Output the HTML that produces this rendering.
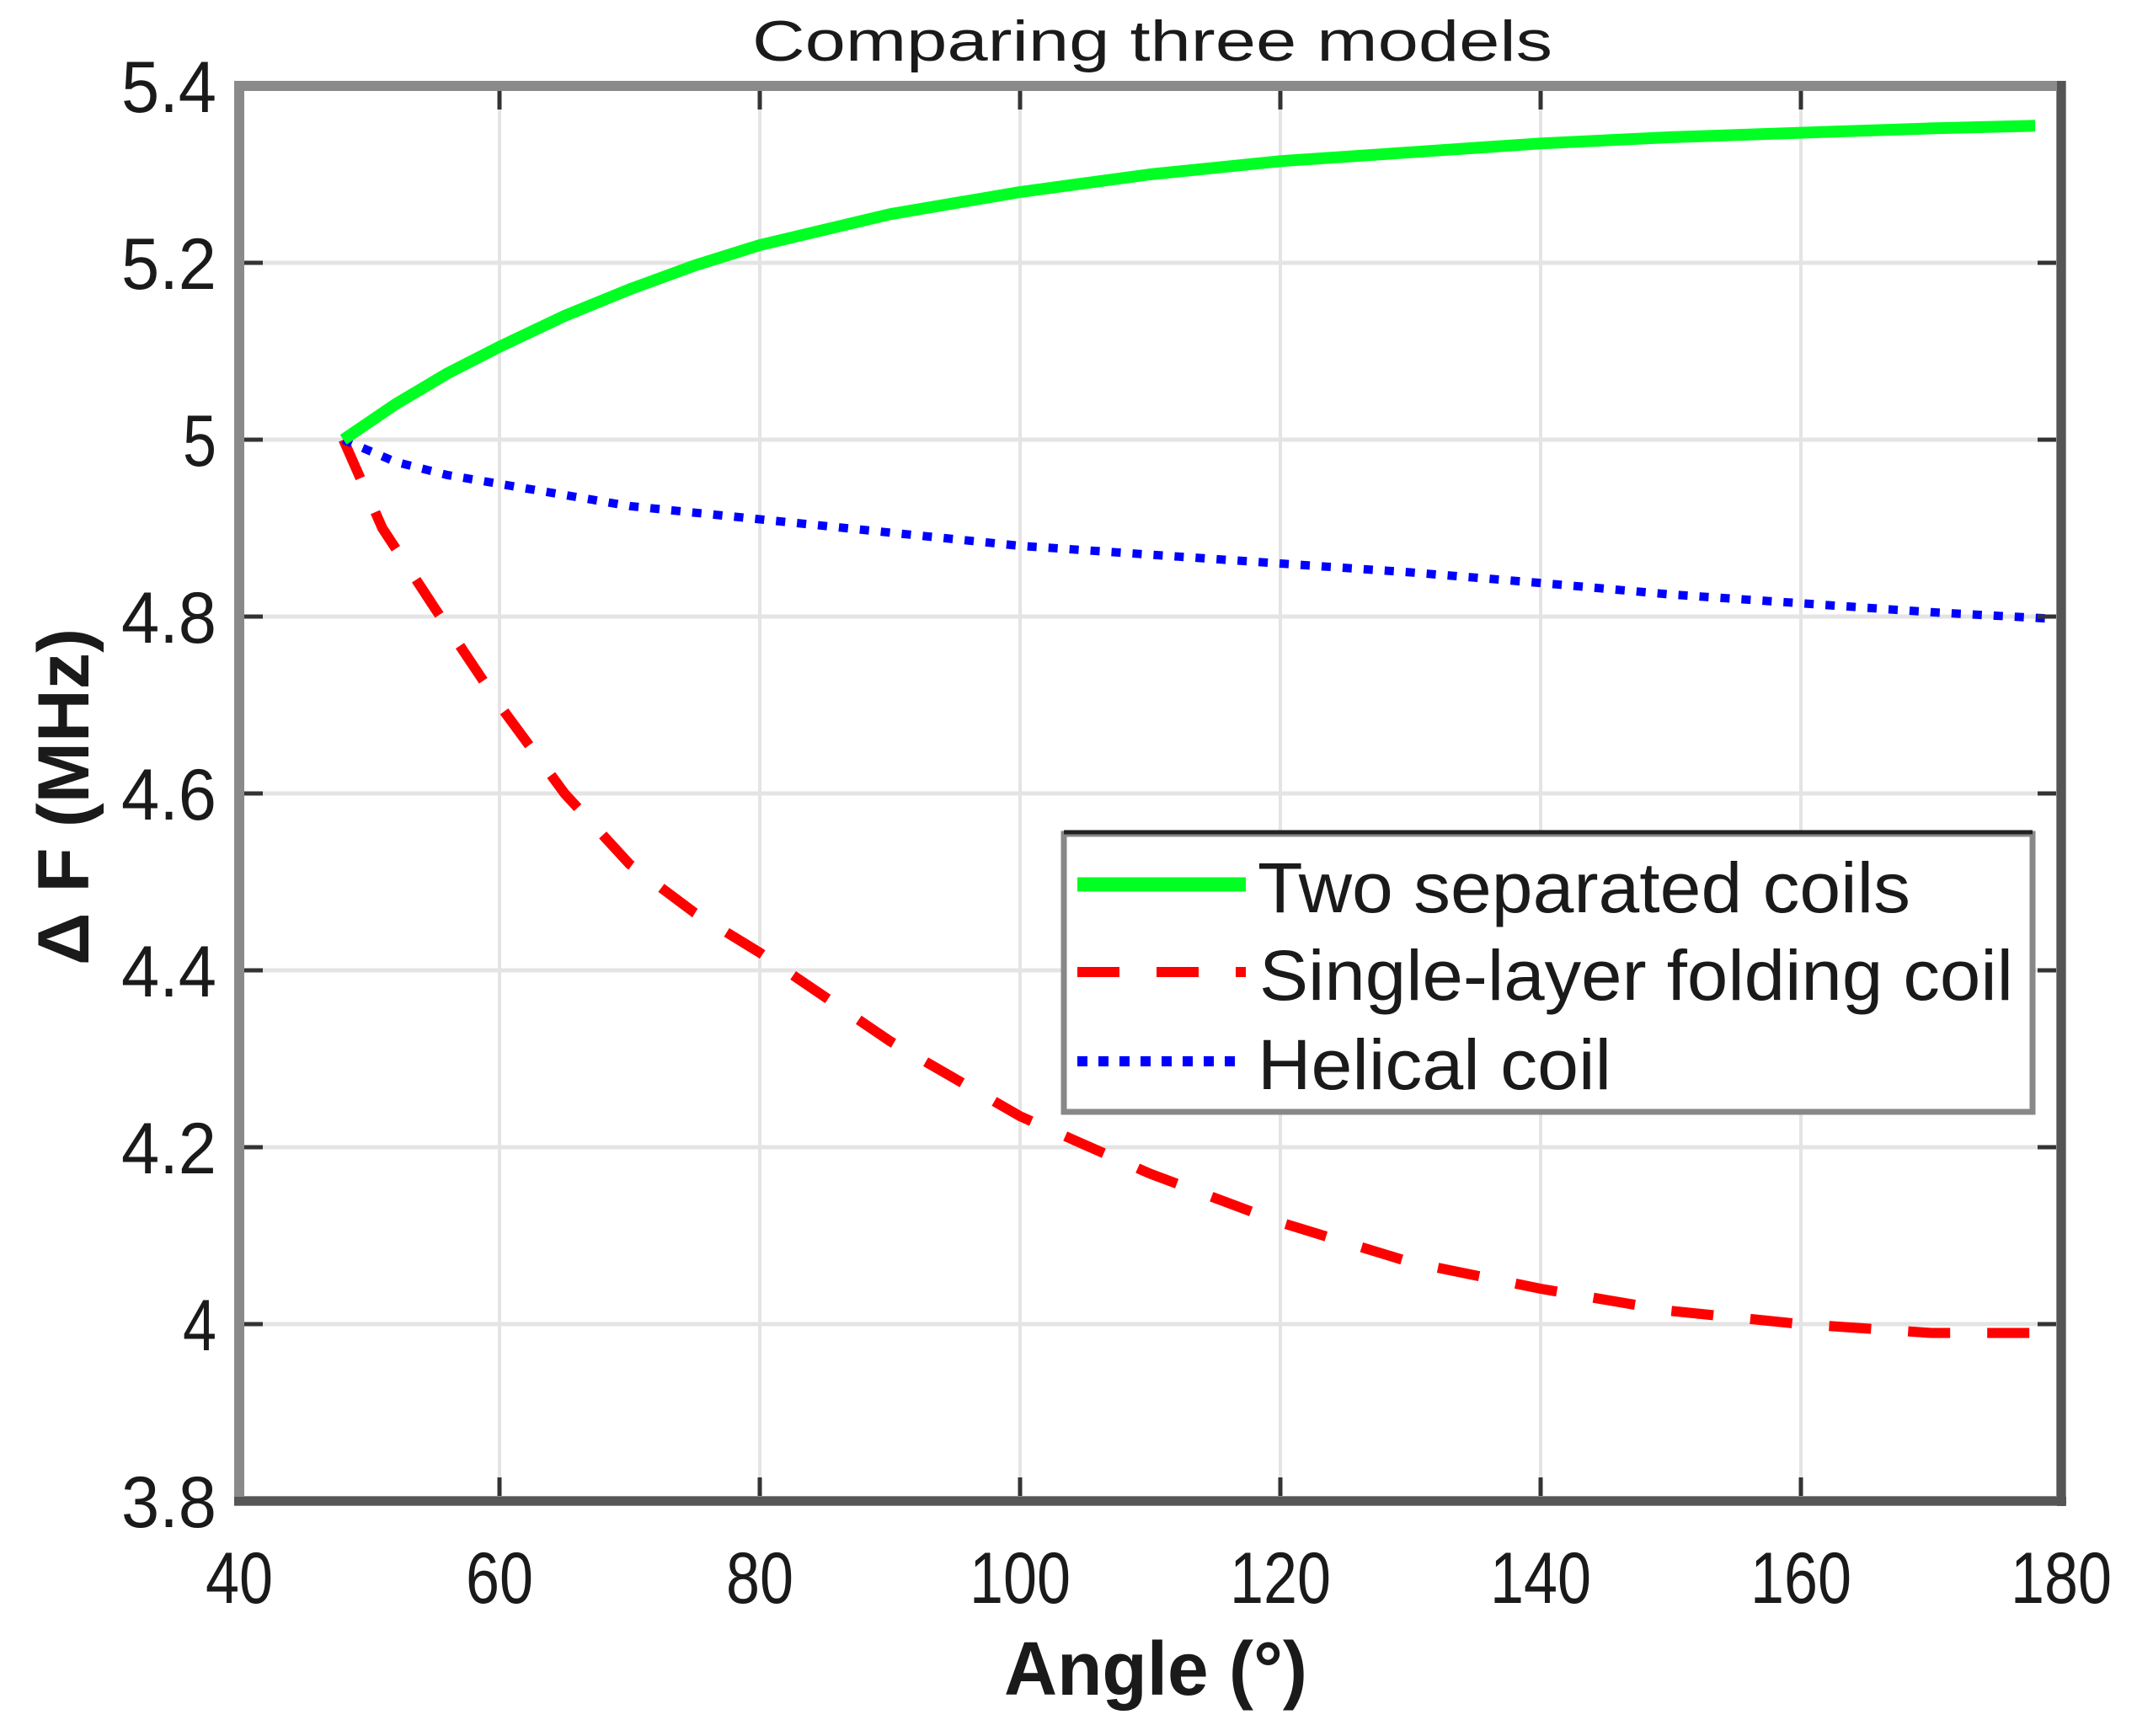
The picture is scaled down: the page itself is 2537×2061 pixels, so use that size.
<!DOCTYPE html>
<html><head><meta charset="utf-8"><style>
html,body{margin:0;padding:0;background:#fff;}
svg{display:block;}
text{font-family:"Liberation Sans",Arial,sans-serif;fill:#1a1a1a;}
</style></head>
<body>
<svg id="chart" width="2537" height="2061" viewBox="0 0 2537 2061" xmlns="http://www.w3.org/2000/svg">
<g id="grid"></g>
<g id="series"></g>
<g id="axes"></g>
<text x="1368" y="72" text-anchor="middle" font-size="68" textLength="950" lengthAdjust="spacingAndGlyphs">Comparing three models</text>
<text x="1372" y="2012" text-anchor="middle" font-size="90" font-weight="bold" textLength="360" lengthAdjust="spacingAndGlyphs">Angle (°)</text>
<text transform="translate(105,946) rotate(-90)" text-anchor="middle" font-size="86" font-weight="bold" textLength="400" lengthAdjust="spacingAndGlyphs">Δ F (MHz)</text>
<g>
  <rect x="1263" y="990" width="1150" height="330" fill="#fff" stroke="#888" stroke-width="7"/>
  <line x1="1263" y1="988" x2="2413" y2="988" stroke="#222" stroke-width="5"/>
  <line x1="1279" y1="1050" x2="1479" y2="1050" stroke="#00ff22" stroke-width="17"/>
  <text x="1493" y="1083" font-size="84" textLength="775" lengthAdjust="spacingAndGlyphs">Two separated coils</text>
  <line x1="1279" y1="1154" x2="1479" y2="1154" stroke="#ff0000" stroke-width="12" stroke-dasharray="50,44"/>
  <text x="1495" y="1187" font-size="84" textLength="895" lengthAdjust="spacingAndGlyphs">Single-layer folding coil</text>
  <line x1="1279" y1="1260" x2="1479" y2="1260" stroke="#0000ff" stroke-width="12" stroke-dasharray="12,13"/>
  <text x="1493" y="1293" font-size="84" textLength="420" lengthAdjust="spacingAndGlyphs">Helical coil</text>
</g>
<script>
const xTicks = [40, 60, 80, 100, 120, 140, 160, 180];
const yTicks = [3.8, 4, 4.2, 4.4, 4.6, 4.8, 5, 5.2, 5.4];
const yTickLabels = ['3.8', '4', '4.2', '4.4', '4.6', '4.8', '5', '5.2', '5.4'];
const greenX = [48, 52, 56, 60, 65, 70, 75, 80, 90, 100, 110, 120, 130, 140, 150, 160, 170, 178];
const greenY = [5.0, 5.04, 5.075, 5.105, 5.14, 5.17, 5.197, 5.22, 5.255, 5.28, 5.30, 5.315, 5.325, 5.335, 5.342, 5.347, 5.352, 5.355];
const redX = [48, 51, 55, 60, 65, 70, 75, 80, 90, 100, 110, 120, 130, 140, 150, 160, 170, 180];
const redY = [5.0, 4.9, 4.81, 4.70, 4.60, 4.52, 4.465, 4.42, 4.32, 4.235, 4.17, 4.115, 4.07, 4.04, 4.015, 4.0, 3.99, 3.99];
const blueX = [48, 52, 56, 60, 70, 80, 90, 100, 110, 120, 130, 140, 150, 160, 170, 180];
const blueY = [5.0, 4.975, 4.96, 4.95, 4.925, 4.91, 4.895, 4.88, 4.87, 4.86, 4.85, 4.838, 4.825, 4.815, 4.805, 4.797];

const NS = 'http://www.w3.org/2000/svg';
const X0 = 284, X1 = 2447, Y0 = 1782, Y1 = 102;
function sx(v){ return X0 + (v - 40) / (180 - 40) * (X1 - X0); }
function sy(v){ return Y0 - (v - 3.8) / (5.4 - 3.8) * (Y0 - Y1); }
function mk(tag, attrs, parent){ const e = document.createElementNS(NS, tag); for (const k in attrs) e.setAttribute(k, attrs[k]); parent.appendChild(e); return e; }

const grid = document.getElementById('grid');
const axes = document.getElementById('axes');
const series = document.getElementById('series');

xTicks.forEach(t => {
  const g = mk('line', {x1: sx(t), x2: sx(t), y1: Y1, y2: Y0, stroke: '#e4e4e4', 'stroke-width': 4}, grid);
  
  
  const tb = mk('line', {x1: sx(t), x2: sx(t), y1: Y0, y2: Y0 - 28, stroke: '#333', 'stroke-width': 5}, axes);
  
  
  const tt = mk('line', {x1: sx(t), x2: sx(t), y1: Y1, y2: Y1 + 28, stroke: '#333', 'stroke-width': 5}, axes);
  
  
  const lb = mk('text', {x: sx(t), y: 1903, 'text-anchor': 'middle', 'font-size': 86, textLength: String(t).length * 40, lengthAdjust: 'spacingAndGlyphs'}, axes);
  lb.textContent = String(t);
  
  
});
yTicks.forEach((t, i) => {
  const g = mk('line', {x1: X0, x2: X1, y1: sy(t), y2: sy(t), stroke: '#e4e4e4', 'stroke-width': 5}, grid);
  
  
  const tl = mk('line', {x1: X0, x2: X0 + 28, y1: sy(t), y2: sy(t), stroke: '#333', 'stroke-width': 5}, axes);
  
  
  const tr = mk('line', {x1: X1, x2: X1 - 28, y1: sy(t), y2: sy(t), stroke: '#333', 'stroke-width': 5}, axes);
  
  
  const s = yTickLabels[i];
  const lb = mk('text', {x: 257, y: sy(t) + 31, 'text-anchor': 'end', 'font-size': 86, textLength: s.length === 1 ? 40 : 113, lengthAdjust: 'spacingAndGlyphs'}, axes);
  lb.textContent = s;
  
  
});
const frame = mk('rect', {x: X0, y: Y1, width: X1 - X0, height: Y0 - Y1, fill: 'none', stroke: '#8a8a8a', 'stroke-width': 12}, axes);


const bottomAxis = mk('line', {x1: X0 - 6, x2: X1 + 6, y1: Y0, y2: Y0, stroke: '#555', 'stroke-width': 10}, axes);


const rightAxis = mk('line', {x1: X1, x2: X1, y1: Y1 - 6, y2: Y0 + 6, stroke: '#555', 'stroke-width': 10}, axes);



function path(xs, ys){ return xs.map((x, i) => (i ? 'L' : 'M') + sx(x).toFixed(1) + ',' + sy(ys[i]).toFixed(1)).join(' '); }
const pr = mk('path', {d: path(redX, redY), fill: 'none', stroke: '#ff0000', 'stroke-width': 12, 'stroke-dasharray': '50,44'}, series);


const pb = mk('path', {d: path(blueX, blueY), fill: 'none', stroke: '#0000ff', 'stroke-width': 10, 'stroke-dasharray': '11,14'}, series);


const pg = mk('path', {d: path(greenX, greenY), fill: 'none', stroke: '#00ff22', 'stroke-width': 14, 'stroke-linejoin': 'round'}, series);


</script>
</svg>
</body></html>
